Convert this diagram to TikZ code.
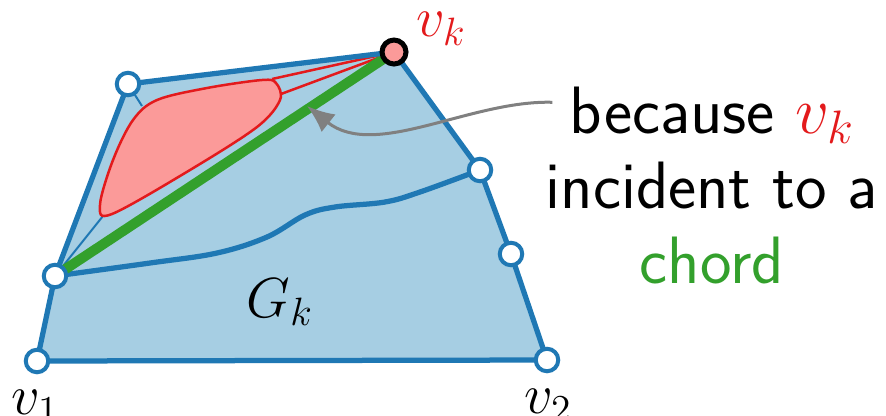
\documentclass[tikz,border=0pt]{standalone}
\usepackage{fix-cm}
\usepackage{amsmath}
\usepackage{xcolor}
\usetikzlibrary{arrows.meta,backgrounds}
\definecolor{gblue}{HTML}{1F78B4}
\definecolor{gfill}{HTML}{A6CEE3}
\definecolor{cgreen}{HTML}{33A02C}
\definecolor{cred}{HTML}{E31A1C}
\definecolor{cpink}{HTML}{FB9A99}
\tikzset{
  vtx/.style    = {circle, draw=gblue, fill=white, line width=1.6pt,
                   inner sep=0pt, minimum size=9pt},
  vkvtx/.style  = {circle, draw=black, fill=cpink, line width=2pt,
                   inner sep=0pt, minimum size=9.6pt},
  lbl/.style    = {font=\fontsize{22.6}{26}\selectfont, inner sep=1pt},
  txt/.style    = {font=\fontsize{26.8}{32}\selectfont\sffamily, anchor=base,
                   inner sep=2pt},
  outer/.style  = {draw=gblue, line width=2.1pt, line join=round},
  thinblue/.style = {draw=gblue, line width=0.8pt},
  redline/.style  = {draw=cred, line width=1pt},
  blob/.style   = {draw=cred, fill=cpink, line width=1pt},
  chord/.style  = {draw=cgreen, line width=4pt},
  ptr/.style    = {-{Latex[length=11pt,width=9pt]}, line width=1.2pt, gray}
}

\begin{document}
\begin{tikzpicture}[x=0.4pt, y=-0.4pt]
\useasboundingbox (0,0) rectangle (886,415);

% ---------- outer face vertices ----------
\node[vtx]   (v1) at (37,361)  {};
\node[vtx]   (w1) at (55,276)  {};
\node[vtx]   (w2) at (128,84)  {};
\node[vkvtx] (vk) at (394,52)  {};
\node[vtx]   (w3) at (480,170) {};
\node[vtx]   (w4) at (511,254) {};
\node[vtx]   (v2) at (547,360) {};

% contact points on the red region
\coordinate (bl) at (103,216);
\coordinate (tl) at (142,106);
\coordinate (tr) at (272,79);
\coordinate (rt) at (281,94);

% ---------- G_k and its inside ----------
\begin{scope}[on background layer]
  \fill[gfill] (v1.center) -- (w1.center) -- (w2.center) -- (vk.center)
     -- (w3.center) -- (w4.center) -- (v2.center) -- cycle;
  \draw[thinblue] (w1.center) -- (bl);
  \draw[thinblue] (w2.center) -- (tl);
  \draw[redline] (vk.center) -- (tr);
  \draw[redline] (vk.center) -- (rt);
  \draw[blob] plot[smooth cycle, tension=0.55] coordinates
     {(100,205) (112,214) (190,170) (257,127) (280,100) (276,83) (262,80)
      (207,88) (157,100) (133,120) (113,160)};
  \draw[outer] plot[smooth, tension=0.6] coordinates
     {(w1.center) (150,263) (217,253) (267,237) (305,215) (335,207)
      (385,202) (420,192) (w3.center)};
  \draw[chord] (w1.center) -- (vk.center);
  \draw[outer] (v1.center) -- (w1.center) -- (w2.center) -- (vk.center)
     -- (w3.center) -- (w4.center) -- (v2.center) -- cycle;
\end{scope}

% ---------- labels ----------
\node[lbl, cred] (vklbl) at (441,29)  {$v_k$};
\node[lbl]       (v1lbl) at (35,407)  {$v_1$};
\node[lbl]       (v2lbl) at (548,406) {$v_2$};
\node[lbl]       (gk)    at (280,302) {$G_k$};

% ---------- explanation ----------
\node[txt]         (because)  at (712,133) {because \textcolor{cred}{$v_k$}};
\node[txt]         (incident) at (712,208) {incident to a};
\node[txt, cgreen] (chordtxt) at (712,283) {chord};

\coordinate (tip) at (307,106);
\draw[ptr] ([shift={(-4.8pt,5pt)}]because.west)
   .. controls (470,100) and (375,160) .. (tip);

\end{tikzpicture}
\end{document}
